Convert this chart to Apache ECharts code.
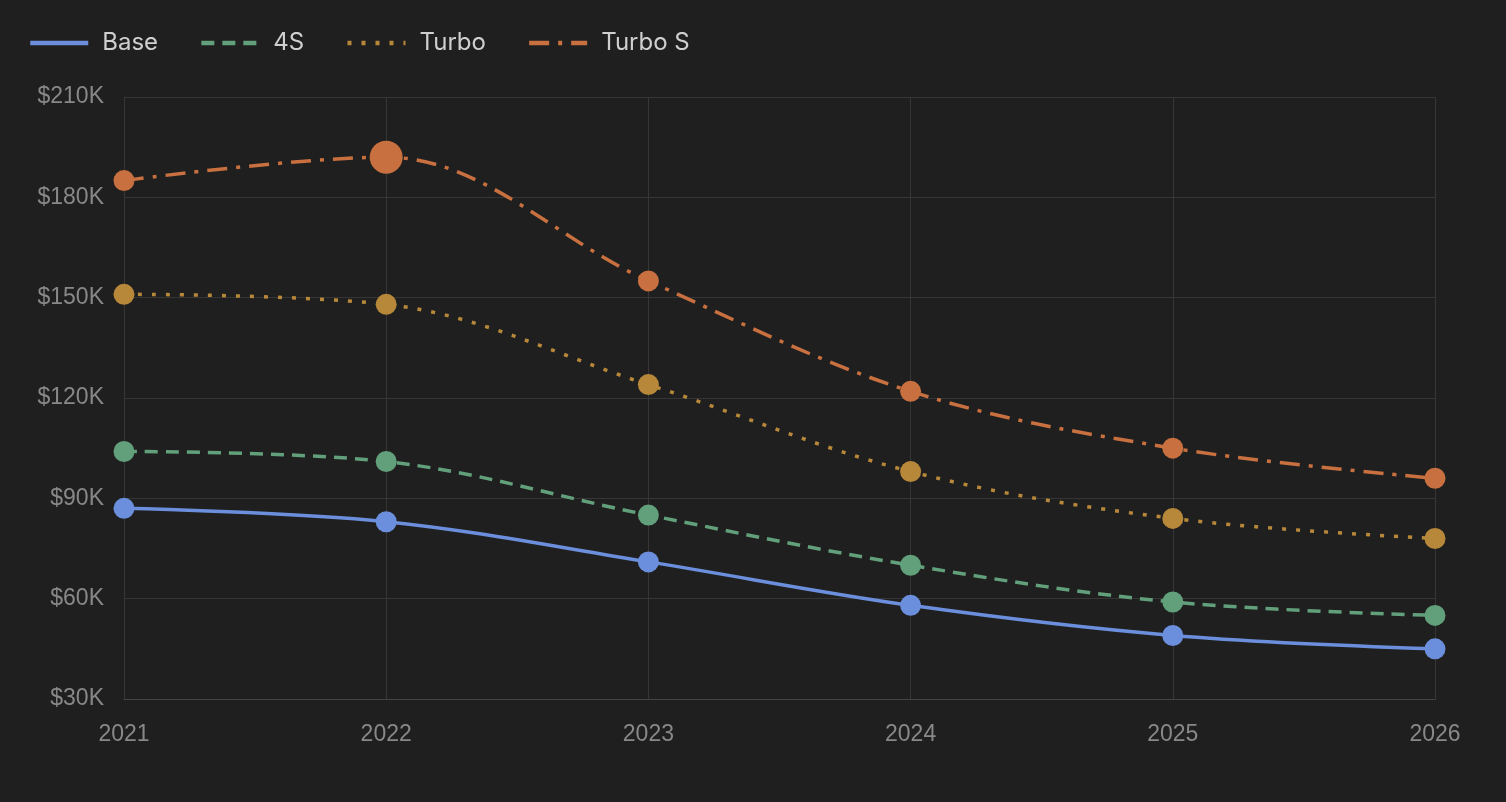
<!DOCTYPE html>
<html>
<head>
<meta charset="utf-8">
<script src="https://cdn.jsdelivr.net/npm/echarts@6/dist/echarts.min.js"></script>
<style>
  html, body { margin: 0; padding: 0; background: #1f1f1f; }
  #main { width: 1506px; height: 802px; }
</style>
</head>
<body>
<div id="main"></div>
<script>
const years = ['2021', '2022', '2023', '2024', '2025', '2026'];
const baseVals = [87, 83, 71, 58, 49, 45];
const s4Vals = [104, 101, 85, 70, 59, 55];
const turboVals = [151, 148, 124, 98, 84, 78];
const turboSVals = [185, 192, 155, 122, 105, 96];
const seriesNames = ['Base', '4S', 'Turbo', 'Turbo S'];
const colors = ['#6b8fdc', '#62a07b', '#b8883a', '#c8703f'];
const dashes = ['solid', [13, 8], [4, 10], [20, 9, 4, 9]];

const myChart = echarts.init(document.getElementById('main'));

function makeSeries(i, vals) {
	return {
		name: seriesNames[i],
		type: 'line',
		smooth: 0.35,
		symbol: 'circle',
		symbolSize: 21,
		data: vals.map(function (v, k) {
			// the 2022 Turbo S point is drawn larger in the original
			if (i === 3 && k === 1) return { value: v * 1000, symbolSize: 33 };
			return v * 1000;
		}),
		itemStyle: { color: colors[i] },
		lineStyle: { width: 3.5, type: dashes[i], color: colors[i] },
		emphasis: { disabled: true }
	};
}

myChart.setOption({
	backgroundColor: '#1f1f1f',
	animation: false,
	legend: {
		show: true,
		top: 26,
		left: 23,
		itemWidth: 58,
		itemHeight: 14,
		itemGap: 41,
		itemStyle: { opacity: 0 },
		lineStyle: { width: 4.5 },
		textStyle: { color: '#cfcfcf', fontSize: 24, fontFamily: 'Inter, sans-serif', padding: [0, 0, 0, 9] },
		data: seriesNames
	},
	grid: {
		left: 124,
		right: 71,
		top: 97,
		bottom: 103
	},
	xAxis: {
		type: 'category',
		boundaryGap: false,
		data: years,
		axisLine: { show: true, lineStyle: { color: '#444' } },
		axisTick: { show: false },
		axisLabel: { color: '#888', fontSize: 23, fontFamily: '"Liberation Sans", Arial, sans-serif', margin: 24 },
		splitLine: { show: true, lineStyle: { color: '#363636', width: 1 } }
	},
	yAxis: {
		type: 'value',
		min: 30000,
		max: 210000,
		interval: 30000,
		axisLine: { show: true, lineStyle: { color: '#363636' } },
		axisTick: { show: false },
		axisLabel: {
			color: '#888',
			fontSize: 23,
			fontFamily: '"Liberation Sans", Arial, sans-serif',
			margin: 20,
			formatter: function (v) { return '$' + (v / 1000) + 'K'; }
		},
		splitLine: { show: true, lineStyle: { color: '#363636', width: 1 } }
	},
	series: [
		makeSeries(0, baseVals),
		makeSeries(1, s4Vals),
		makeSeries(2, turboVals),
		makeSeries(3, turboSVals)
	]
});
</script>
</body>
</html>
